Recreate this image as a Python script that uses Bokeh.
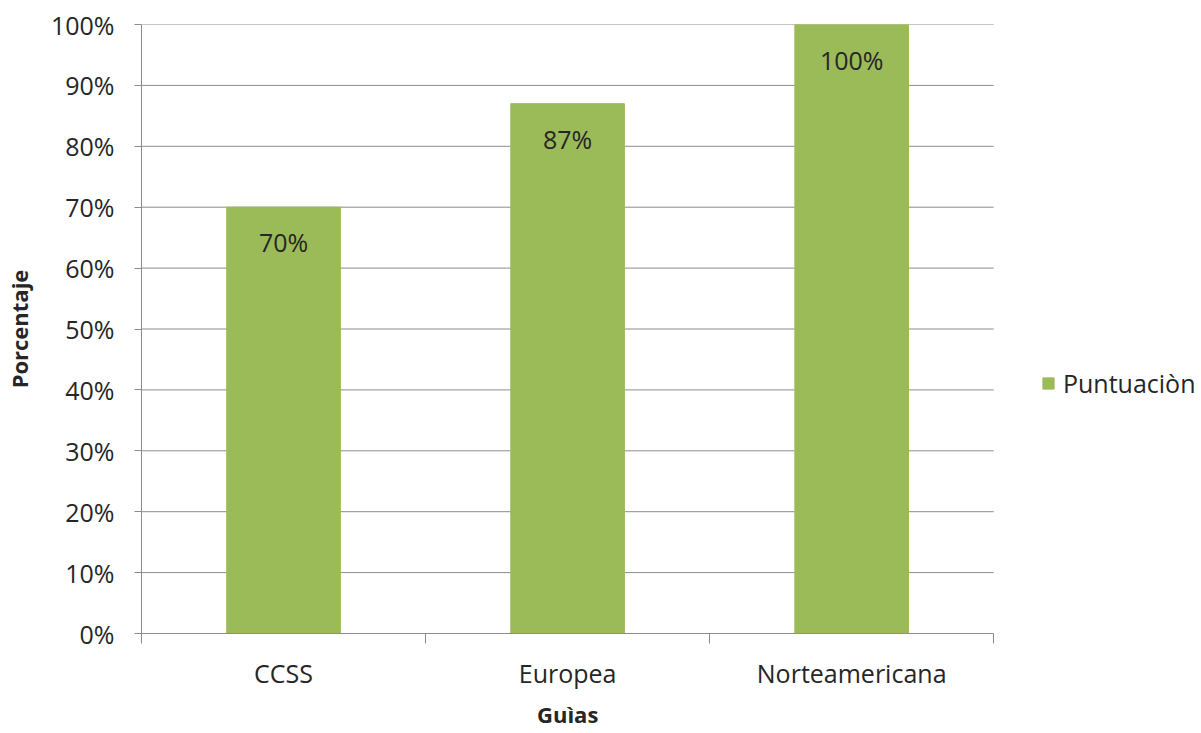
from bokeh.plotting import figure
from bokeh.models import (Range1d, LinearAxis, FixedTicker, NumeralTickFormatter,
                          ColumnDataSource, Legend, Title)
from bokeh.core.properties import value
from bokeh.embed import file_html
from bokeh.resources import INLINE

# Data
guias = ["CCSS", "Europea", "Norteamericana"]
puntuacion = [0.70, 0.87, 1.00]
y_ticks = [0.0, 0.1, 0.2, 0.3, 0.4, 0.5, 0.6, 0.7, 0.8, 0.9, 1.0]
serie = "Puntuaciòn"
titulo_x = "Guìas"
titulo_y = "Porcentaje"

FONT = "Open Sans"
TXT = "#262626"
GRID = "#8c8c8c"
GREEN = "#9BBB59"

W, H = 1201, 733
LEFT, TOP, BOTTOM = 140, 24, 100
PLOT_W = 853           # width of the bar area; the rest on the right holds the legend
X_TITLE_W = 62         # approximate rendered width of the x title

# each category occupies one unit slot; bars sit in the slot centres
n = len(guias)
centros = [i + 0.5 for i in range(n)]
bordes = list(range(n + 1))
x_end = n * (W - LEFT) / PLOT_W

src = ColumnDataSource(dict(
    x=centros,
    valor=puntuacion,
    etiqueta=[f"{v:.0%}" for v in puntuacion],
))

p = figure(width=W, height=H, x_range=Range1d(0, x_end),
           y_range=Range1d(0, 1), x_axis_location=None,
           output_backend="svg", toolbar_location=None)
p.min_border_left = LEFT
p.min_border_right = 0
p.min_border_top = TOP
p.min_border_bottom = BOTTOM
p.outline_line_color = None
p.background_fill_color = "white"
p.border_fill_color = "white"

# axis line with ticks at the category boundaries
edge_axis = LinearAxis(ticker=FixedTicker(ticks=bordes), bounds=(0, n),
                       major_label_overrides={b: "" for b in bordes})
edge_axis.major_label_text_font_size = "1px"
edge_axis.major_label_standoff = 0
edge_axis.axis_line_color = GRID
edge_axis.major_tick_line_color = GRID
edge_axis.major_tick_out = 10
edge_axis.major_tick_in = 0
edge_axis.minor_tick_line_color = None
p.add_layout(edge_axis, "below")

# category names at the slot centres
cat_axis = LinearAxis(ticker=FixedTicker(ticks=centros), bounds=(0, n),
                      major_label_overrides={c: g for c, g in zip(centros, guias)})
cat_axis.axis_line_color = None
cat_axis.major_tick_line_color = None
cat_axis.minor_tick_line_color = None
cat_axis.major_label_standoff = 6
cat_axis.major_label_text_font = FONT
cat_axis.major_label_text_font_size = "25px"
cat_axis.major_label_text_color = TXT
p.add_layout(cat_axis, "below")

# x axis title, centred under the bar area
x_title = Title(text=titulo_x, align="left", offset=(PLOT_W - X_TITLE_W) / 2,
                text_font=FONT, text_font_style="bold", text_font_size="22px",
                text_color=TXT, standoff=9)
p.add_layout(x_title, "below")

yax = p.yaxis[0]
yax.ticker = FixedTicker(ticks=y_ticks)
yax.formatter = NumeralTickFormatter(format="0%")
yax.axis_line_color = GRID
yax.major_tick_line_color = GRID
yax.major_tick_out = 7
yax.major_tick_in = 0
yax.minor_tick_line_color = None
yax.major_label_standoff = 20
yax.major_label_text_font = FONT
yax.major_label_text_font_size = "25px"
yax.major_label_text_color = TXT
yax.axis_label = titulo_y
yax.axis_label_text_font = FONT
yax.axis_label_text_font_style = "bold"
yax.axis_label_text_font_size = "22px"
yax.axis_label_text_color = TXT
yax.axis_label_standoff = 14

# horizontal gridlines limited to the bar area
p.xgrid.visible = False
p.ygrid.visible = False
p.segment(x0=[0] * len(y_ticks), x1=[n] * len(y_ticks), y0=y_ticks, y1=y_ticks,
          line_color=GRID, line_width=1)

bars = p.vbar(x="x", top="valor", width=0.4, source=src,
              fill_color=GREEN, line_color=GREEN)

p.text(x="x", y="valor", text="etiqueta", source=src,
       text_align="center", text_baseline="middle", y_offset=35,
       text_font_size="25px", text_color=TXT, text_font=value(FONT))

leg = Legend(items=[(serie, [bars])], location=(900, 233))
leg.padding = 0
leg.margin = 0
leg.border_line_color = None
leg.background_fill_alpha = 0
leg.glyph_width = 14
leg.glyph_height = 14
leg.label_standoff = 8
leg.label_text_font = FONT
leg.label_text_font_size = "25px"
leg.label_text_color = TXT
p.add_layout(leg, "center")

open("out.html", "w").write(file_html(p, INLINE))
